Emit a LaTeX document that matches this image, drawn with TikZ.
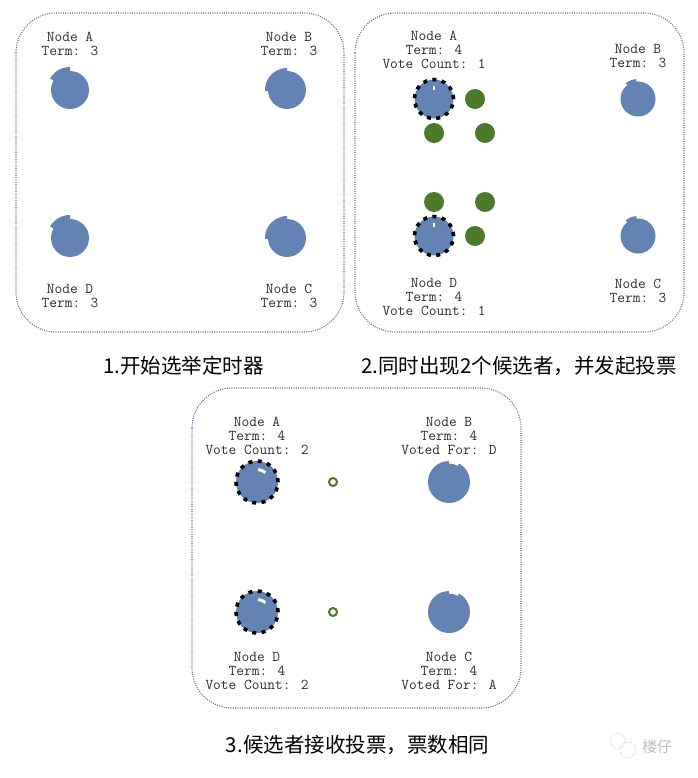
\documentclass[tikz,border=0pt]{standalone}
\usepackage{fontspec}
\newfontfamily\cjk{Noto Sans CJK SC}
\usepackage{tikz}
\usetikzlibrary{positioning}
\definecolor{cSrv}{HTML}{6383B4}
\definecolor{cVote}{HTML}{4C7A2A}
\definecolor{cFrame}{HTML}{4F73AD}
\definecolor{cText}{HTML}{2E2E2E}
\definecolor{cMark}{HTML}{BDBDBD}
\tikzset{
  panel/.style={draw=cFrame, line width=1.1pt, dash pattern=on 1pt off 1.3pt,
                rounded corners=40pt},
  srv/.style={circle, fill=cSrv, inner sep=0pt, minimum size=#1},
  cand/.style={srv=#1, draw=black, line width=3.6pt, dash pattern=on 4pt off 5.4pt},
  vote/.style={circle, fill=cVote, inner sep=0pt, minimum size=20},
  ballot/.style={circle, draw=cVote, line width=2pt, fill=white, inner sep=0pt,
                 minimum size=8},
  glint/.style={white, line width=1.2pt},
  lbl/.style={font=\ttfamily\fontsize{15}{14}\selectfont, text=cText,
              align=center, inner sep=0pt},
  captxt/.style={font=\cjk\fontsize{20.5}{24}\selectfont, inner sep=0pt},
  wmark/.style={font=\cjk\fontsize{15}{18}\selectfont, text=cMark, inner sep=0pt}
}
\begin{document}
\begin{tikzpicture}[x=1pt, y=1pt]
\useasboundingbox (0,0) rectangle (697,-778);
% ----- 1. election timers -----
\draw[panel] (16,-13) rectangle (344,-332);
\node[srv=38] (a1) at (70,-90) {};
\node[srv=38] (b1) at (287,-90) {};
\node[srv=38] (d1) at (70,-238) {};
\node[srv=38] (c1) at (287,-238) {};
\fill[cSrv] (a1.center) -- ++(90:23) arc (90:150:23) -- cycle;
\fill[cSrv] (d1.center) -- ++(90:23) arc (90:150:23) -- cycle;
\fill[cSrv] (b1.center) -- ++(90:22) arc (90:183:22) -- cycle;
\fill[cSrv] (c1.center) -- ++(90:22) arc (90:183:22) -- cycle;
\node[lbl] (la1) at (70,-44) {Node A\\Term: 3};
\node[lbl] (lb1) at (289,-44) {Node B\\Term: 3};
\node[lbl] (ld1) at (70,-296) {Node D\\Term: 3};
\node[lbl] (lc1) at (289,-296) {Node C\\Term: 3};
\node[captxt] (cap1) at (183.5,-366) {1.开始选举定时器};
% ----- 2. two candidates request votes -----
\draw[panel] (355,-13) rectangle (684,-332);
\node[cand=39] (a2) at (434,-99) {};
\node[cand=39] (d2) at (434,-236) {};
\draw[glint] (a2.center) ++(0,9) -- ++(0,4);
\draw[glint] (d2.center) ++(0,9) -- ++(0,4);
\node[vote] (va1) at (475,-99) {};
\node[vote] (va2) at (434,-133) {};
\node[vote] (va3) at (485,-133) {};
\node[vote] (vd1) at (434,-202) {};
\node[vote] (vd2) at (485,-202) {};
\node[vote] (vd3) at (475,-236) {};
\node[srv=35] (b2) at (638,-99) {};
\node[srv=35] (c2) at (638,-236) {};
\fill[cSrv] (b2.center) -- ++(95:20) arc (95:128:20) -- cycle;
\fill[cSrv] (c2.center) -- ++(95:20) arc (95:128:20) -- cycle;
\node[lbl] (la2) at (434,-50) {Node A\\Term: 4\\Vote Count: 1};
\node[lbl] (lb2) at (638,-56.5) {Node B\\Term: 3};
\node[lbl] (ld2) at (434,-297) {Node D\\Term: 4\\Vote Count: 1};
\node[lbl] (lc2) at (638,-290.5) {Node C\\Term: 3};
\node[captxt] (cap2) at (519,-366) {2.同时出现2个候选者，并发起投票};
% ----- 3. split vote -----
\draw[panel] (192,-388) rectangle (521,-708);
\node[cand=42] (a3) at (257,-482) {};
\node[cand=42] (d3) at (257,-612) {};
\draw[glint, line width=3pt] (a3.center) ++(85:12.5) arc (85:48:12.5);
\draw[glint, line width=3pt] (d3.center) ++(85:12.5) arc (85:48:12.5);
\node[ballot] (ra3) at (333,-482) {};
\node[ballot] (rd3) at (333,-612) {};
\node[srv=42] (b3) at (449,-482) {};
\node[srv=42] (c3) at (449,-612) {};
\fill[white] (b3.center) ++(62:18.5) arc (62:90:18.5) -- ++(90:4) arc (90:62:22.5) -- cycle;
\fill[white] (c3.center) ++(62:18.5) arc (62:90:18.5) -- ++(90:4) arc (90:62:22.5) -- cycle;
\node[lbl] (la3) at (257,-436) {Node A\\Term: 4\\Vote Count: 2};
\node[lbl] (lb3) at (449,-436) {Node B\\Term: 4\\Voted For: D};
\node[lbl] (ld3) at (257,-671) {Node D\\Term: 4\\Vote Count: 2};
\node[lbl] (lc3) at (449,-671) {Node C\\Term: 4\\Voted For: A};
\node[captxt] (cap3) at (357.5,-745) {3.候选者接收投票，票数相同};
% ----- watermark -----
\draw[cMark, densely dotted, line width=0.6pt] (618,-741) circle (7.5);
\draw[cMark, densely dotted, line width=0.6pt] (628,-750) circle (8);
\node[wmark] (wm) at (657,-747) {楼仔};
\end{tikzpicture}
\end{document}
